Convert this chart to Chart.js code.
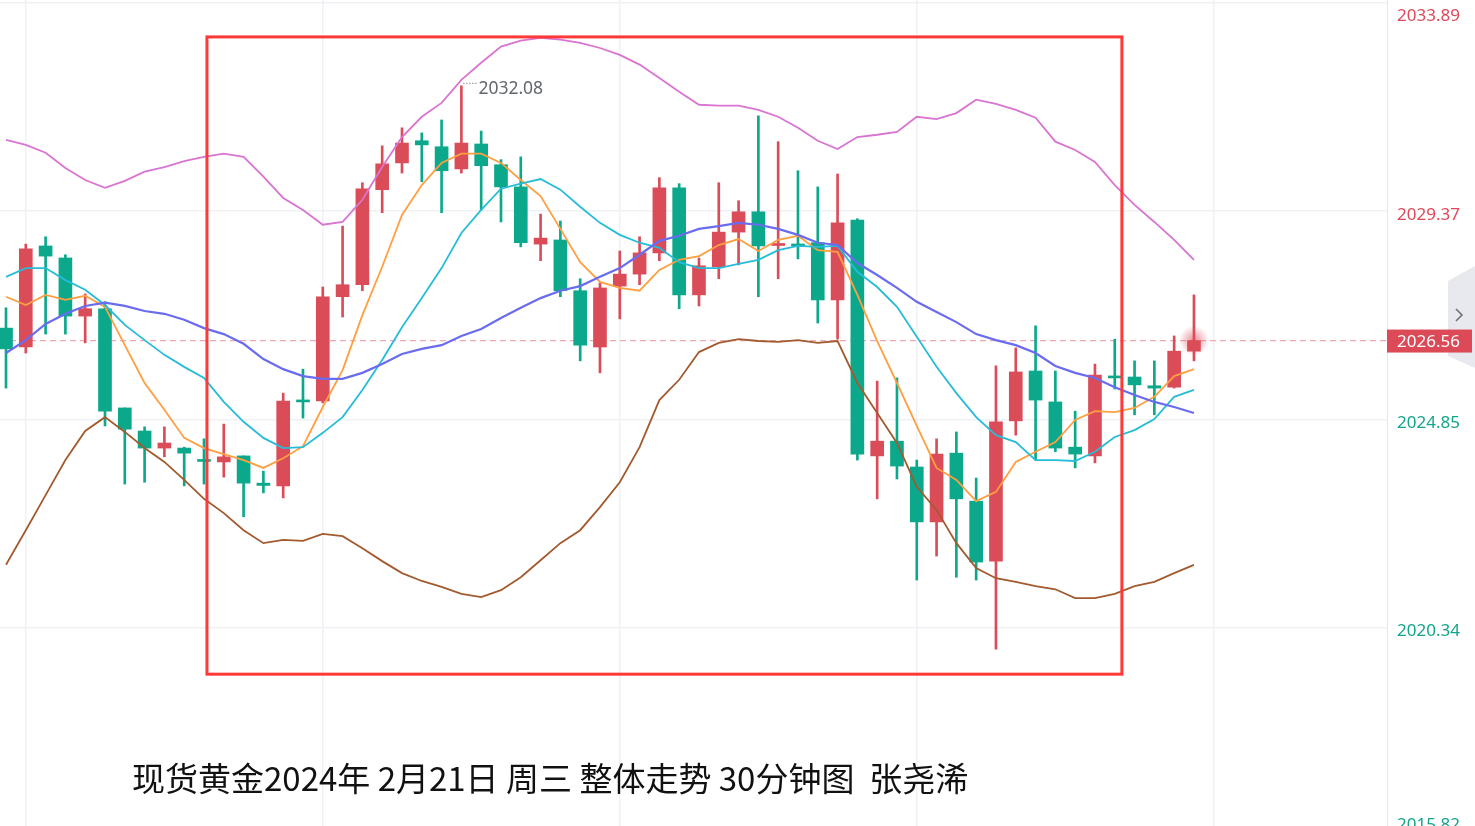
<!DOCTYPE html>
<html lang="zh-CN">
<head>
<meta charset="utf-8">
<title>现货黄金 30分钟图</title>
<script src="https://cdn.jsdelivr.net/npm/chart.js@4.4.1/dist/chart.umd.min.js"></script>
<style>
  html, body { margin: 0; padding: 0; background: #fff; }
  #wrap { position: relative; width: 1475px; height: 826px; overflow: hidden; }
  #chart { display: block; }
  #caption {
    position: absolute; left: 132px; top: 755px;
    font-family: "Noto Sans CJK SC", sans-serif; font-size: 33px;
    line-height: 44px; color: #111; white-space: pre;
  }
</style>
</head>
<body>
<div id="wrap">
  <canvas id="chart" width="1475" height="826"></canvas>
  <div id="caption">现货黄金2024年 2月21日 周三 整体走势 30分钟图  张尧浠</div>
</div>
<script>
// K线数据 (30分钟)
const opens  = [2026.83, 2026.42, 2028.61, 2028.35, 2027.09, 2027.25, 2025.10, 2024.60, 2024.23, 2024.23,
                2023.96, 2023.93, 2024.06, 2023.47, 2023.41, 2025.27, 2025.25, 2027.51, 2027.77, 2029.83,
                2030.41, 2030.89, 2030.76, 2030.28, 2030.82, 2030.37, 2029.89, 2028.65, 2028.74, 2027.64,
                2026.42, 2027.74, 2028.00, 2028.46, 2029.87, 2027.55, 2028.16, 2028.91, 2029.35, 2028.62,
                2028.63, 2028.68, 2027.44, 2029.17, 2024.06, 2024.38, 2023.82, 2022.63, 2024.12, 2023.08,
                2021.78, 2024.82, 2025.90, 2025.23, 2024.25, 2024.06, 2025.77, 2025.77, 2025.58, 2025.55, 2026.33];
const highs  = [2027.27, 2028.65, 2028.81, 2028.42, 2027.57, 2027.40, 2025.10, 2024.69, 2024.69, 2024.25,
                2024.43, 2024.75, 2024.06, 2023.73, 2025.42, 2025.94, 2027.72, 2029.04, 2029.98, 2030.78,
                2031.17, 2031.06, 2031.34, 2032.08, 2031.10, 2030.48, 2030.54, 2029.30, 2029.15, 2027.90,
                2027.81, 2028.50, 2028.81, 2030.09, 2029.96, 2028.35, 2029.98, 2029.59, 2031.43, 2030.87,
                2030.24, 2029.89, 2030.17, 2029.20, 2025.68, 2025.75, 2023.97, 2024.43, 2024.58, 2023.58,
                2026.01, 2026.40, 2026.88, 2025.90, 2025.03, 2026.05, 2026.59, 2026.12, 2026.12, 2026.66, 2027.55];
const lows   = [2025.53, 2026.29, 2026.70, 2026.70, 2026.51, 2024.71, 2023.45, 2023.49, 2024.04, 2023.41,
                2023.45, 2023.60, 2022.74, 2023.26, 2023.15, 2024.88, 2025.21, 2027.07, 2027.64, 2029.33,
                2030.19, 2030.00, 2029.33, 2030.19, 2029.39, 2029.13, 2028.59, 2028.29, 2027.51, 2026.12,
                2025.86, 2027.03, 2027.77, 2028.29, 2027.25, 2027.31, 2027.90, 2028.20, 2027.51, 2027.90,
                2028.33, 2026.94, 2026.59, 2023.97, 2023.13, 2023.56, 2021.37, 2021.89, 2021.43, 2021.37,
                2019.87, 2024.51, 2023.97, 2024.15, 2023.80, 2023.91, 2025.51, 2024.95, 2024.95, 2025.53, 2026.12];
const closes = [2026.38, 2028.55, 2028.39, 2027.09, 2027.25, 2025.03, 2024.64, 2024.23, 2024.34, 2024.12,
                2023.94, 2024.04, 2023.47, 2023.42, 2025.25, 2025.23, 2027.51, 2027.77, 2029.85, 2030.39,
                2030.84, 2030.80, 2030.24, 2030.84, 2030.35, 2029.89, 2028.68, 2028.78, 2027.64, 2026.46,
                2027.70, 2028.00, 2028.46, 2029.87, 2027.55, 2028.18, 2028.91, 2029.35, 2028.61, 2028.65,
                2028.61, 2027.44, 2029.11, 2024.10, 2024.38, 2023.84, 2022.63, 2024.10, 2023.13, 2021.76,
                2024.80, 2025.88, 2025.27, 2024.23, 2024.10, 2025.81, 2025.75, 2025.60, 2025.53, 2026.33, 2026.56];

// 均线
const ma5  = [2027.51, 2027.33, 2027.55, 2027.44, 2027.53, 2027.29, 2026.46, 2025.64, 2025.06, 2024.45,
              2024.23, 2024.10, 2023.97, 2023.80, 2024.01, 2024.27, 2025.12, 2025.92, 2027.11, 2028.16,
              2029.28, 2029.93, 2030.41, 2030.61, 2030.61, 2030.41, 2030.04, 2029.69, 2028.98, 2028.26,
              2027.83, 2027.70, 2027.64, 2028.09, 2028.31, 2028.39, 2028.63, 2028.76, 2028.50, 2028.74,
              2028.83, 2028.52, 2028.48, 2027.55, 2026.55, 2025.64, 2024.71, 2023.80, 2023.54, 2023.08,
              2023.28, 2023.93, 2024.15, 2024.36, 2024.84, 2025.03, 2025.01, 2025.10, 2025.34, 2025.79, 2025.94];
const ma10 = [2027.94, 2028.13, 2028.13, 2027.87, 2027.66, 2027.33, 2026.90, 2026.57, 2026.25, 2025.99,
              2025.75, 2025.23, 2024.80, 2024.45, 2024.23, 2024.25, 2024.56, 2024.90, 2025.49, 2026.14,
              2026.85, 2027.48, 2028.13, 2028.89, 2029.39, 2029.85, 2029.96, 2030.06, 2029.83, 2029.46,
              2029.11, 2028.85, 2028.68, 2028.57, 2028.26, 2028.13, 2028.13, 2028.22, 2028.31, 2028.52,
              2028.61, 2028.59, 2028.61, 2028.05, 2027.72, 2027.29, 2026.64, 2025.99, 2025.42, 2024.90,
              2024.51, 2024.36, 2023.97, 2023.97, 2023.95, 2024.15, 2024.47, 2024.62, 2024.86, 2025.34, 2025.49];

// 布林带
const bollMid   = [2026.29, 2026.57, 2026.92, 2027.14, 2027.31, 2027.38, 2027.31, 2027.20, 2027.14, 2027.01,
                   2026.83, 2026.70, 2026.49, 2026.16, 2025.94, 2025.79, 2025.73, 2025.73, 2025.86, 2026.05,
                   2026.27, 2026.38, 2026.46, 2026.66, 2026.81, 2027.05, 2027.27, 2027.48, 2027.64, 2027.74,
                   2027.94, 2028.13, 2028.42, 2028.72, 2028.83, 2028.98, 2029.04, 2029.11, 2029.07, 2028.98,
                   2028.85, 2028.68, 2028.63, 2028.24, 2027.98, 2027.70, 2027.40, 2027.18, 2026.96, 2026.70,
                   2026.57, 2026.46, 2026.29, 2026.01, 2025.86, 2025.75, 2025.55, 2025.38, 2025.23, 2025.12, 2024.99];
const bollUpper = [2030.91, 2030.80, 2030.63, 2030.30, 2030.04, 2029.87, 2030.02, 2030.22, 2030.32, 2030.45,
                   2030.54, 2030.61, 2030.54, 2030.11, 2029.65, 2029.39, 2029.07, 2029.13, 2029.61, 2030.32,
                   2030.97, 2031.41, 2031.71, 2032.21, 2032.58, 2032.93, 2033.06, 2033.12, 2033.08, 2033.01,
                   2032.90, 2032.75, 2032.54, 2032.25, 2031.95, 2031.67, 2031.65, 2031.65, 2031.56, 2031.41,
                   2031.17, 2030.89, 2030.71, 2030.97, 2031.02, 2031.08, 2031.41, 2031.36, 2031.49, 2031.78,
                   2031.69, 2031.56, 2031.39, 2030.87, 2030.69, 2030.43, 2029.93, 2029.50, 2029.13, 2028.74, 2028.31];
const bollLower = [2021.70, 2022.45, 2023.21, 2023.97, 2024.60, 2024.90, 2024.58, 2024.23, 2023.93, 2023.54,
                   2023.13, 2022.82, 2022.45, 2022.17, 2022.24, 2022.22, 2022.37, 2022.32, 2022.06, 2021.78,
                   2021.52, 2021.35, 2021.22, 2021.07, 2021.00, 2021.15, 2021.43, 2021.80, 2022.17, 2022.45,
                   2022.95, 2023.49, 2024.25, 2025.27, 2025.71, 2026.31, 2026.51, 2026.59, 2026.55, 2026.53,
                   2026.57, 2026.51, 2026.55, 2025.64, 2024.99, 2024.34, 2023.39, 2022.89, 2022.17, 2021.63,
                   2021.41, 2021.33, 2021.24, 2021.17, 2020.98, 2020.98, 2021.07, 2021.24, 2021.33, 2021.52, 2021.70];

// 坐标轴刻度
const yTicks = [2033.89, 2029.37, 2024.85, 2020.34, 2015.82];
const xGridIdx = [1, 16, 31, 46, 61];
const lastPrice = 2026.56;
const highMark = { idx: 23, price: 2032.08 };
// 红框 (K线序号 / 价格)
const boxRange = { x1: 10.15, x2: 56.36, yTop: 2033.14, yBottom: 2019.33 };

const upColor = '#DB4C59';
const downColor = '#0BA88B';
const idx = opens.map((_, i) => i);
const candleColors = idx.map(i => closes[i] >= opens[i] ? upColor : downColor);

function lineSet(values, color, width) {
    return {
        type: 'line',
        data: idx.map(i => ({ x: i, y: values[i] })),
        borderColor: color,
        borderWidth: width,
        pointRadius: 0,
        tension: 0,
        fill: false,
        order: 0
    };
}

const overlayPlugin = {
    id: 'overlay',
    beforeDatasetsDraw(chart) {
        const { ctx, chartArea, scales: { y } } = chart;
        const py = y.getPixelForValue(lastPrice);
        ctx.save();
        ctx.strokeStyle = '#F0A9B0';
        ctx.lineWidth = 1.2;
        ctx.setLineDash([6, 4]);
        ctx.beginPath();
        ctx.moveTo(chartArea.left, py);
        ctx.lineTo(chartArea.right, py);
        ctx.stroke();
        ctx.restore();
    },
    afterDatasetsDraw(chart) {
        const { ctx, chartArea, scales: { x, y } } = chart;
        ctx.save();

        // 最新价光晕
        const gx = x.getPixelForValue(idx.length - 1);
        const gy = y.getPixelForValue(lastPrice);
        const grad = ctx.createRadialGradient(gx, gy, 2, gx, gy, 15);
        grad.addColorStop(0, 'rgba(219,76,89,0.55)');
        grad.addColorStop(1, 'rgba(219,76,89,0)');
        ctx.fillStyle = grad;
        ctx.beginPath();
        ctx.arc(gx, gy, 15, 0, Math.PI * 2);
        ctx.fill();

        // 最高价标注
        const hx = x.getPixelForValue(highMark.idx);
        const hy = y.getPixelForValue(highMark.price);
        ctx.strokeStyle = '#555';
        ctx.lineWidth = 1;
        ctx.setLineDash([1, 2]);
        ctx.beginPath();
        ctx.moveTo(hx + 2, hy - 2.5);
        ctx.lineTo(hx + 16, hy - 2.5);
        ctx.stroke();
        ctx.setLineDash([]);
        ctx.fillStyle = '#62666F';
        ctx.font = '17.5px "Noto Sans"';
        ctx.textBaseline = 'middle';
        ctx.fillText(highMark.price.toFixed(2), hx + 17, hy + 3);

        // 红框
        ctx.strokeStyle = '#FF3838';
        ctx.lineWidth = 3;
        const bx1 = x.getPixelForValue(boxRange.x1), bx2 = x.getPixelForValue(boxRange.x2);
        const by1 = y.getPixelForValue(boxRange.yTop), by2 = y.getPixelForValue(boxRange.yBottom);
        ctx.strokeRect(bx1, by1, bx2 - bx1, by2 - by1);

        // 右侧价格刻度
        const axisX = chartArea.right + 10;
        ctx.font = '17px "Noto Sans"';
        yTicks.forEach(v => {
            let py = y.getPixelForValue(v) + 4;
            py = Math.max(16, Math.min(825, py));
            ctx.fillStyle = v > lastPrice ? '#E0485A' : '#12A58A';
            ctx.fillText(v.toFixed(2), axisX, py);
        });

        // 右侧折叠按钮
        const w = chart.width;
        ctx.fillStyle = 'rgba(228,229,235,0.85)';
        ctx.beginPath();
        ctx.moveTo(w, 266);
        ctx.lineTo(w - 27, 281);
        ctx.lineTo(w - 27, 356);
        ctx.lineTo(w, 368);
        ctx.closePath();
        ctx.fill();
        ctx.strokeStyle = '#6E717A';
        ctx.lineWidth = 1.6;
        ctx.beginPath();
        ctx.moveTo(w - 19, 309);
        ctx.lineTo(w - 13, 315);
        ctx.lineTo(w - 19, 321);
        ctx.stroke();

        // 最新价标签
        ctx.fillStyle = '#DB4A56';
        ctx.fillRect(chartArea.right, gy - 11, 85, 23);
        ctx.fillStyle = '#fff';
        ctx.fillText(lastPrice.toFixed(2), axisX, gy + 1.5);

        ctx.restore();
    }
};

new Chart(document.getElementById('chart'), {
    type: 'bar',
    data: {
        datasets: [
            {
                type: 'bar',
                data: idx.map(i => ({ x: i, y: [opens[i], closes[i]] })),
                backgroundColor: candleColors,
                barThickness: 13,
                minBarLength: 2,
                grouped: false,
                order: 1
            },
            {
                type: 'bar',
                data: idx.map(i => ({ x: i, y: [lows[i], highs[i]] })),
                backgroundColor: candleColors,
                barThickness: 2,
                grouped: false,
                order: 2
            },
            lineSet(bollUpper, '#D974D2', 1.8),
            lineSet(bollLower, '#A35A2E', 1.8),
            lineSet(bollMid, '#6A6CF0', 2.2),
            lineSet(ma10, '#26BCD9', 1.8),
            lineSet(ma5, '#FF9F40', 1.8)
        ]
    },
    options: {
        responsive: false,
        animation: false,
        layout: { padding: 0 },
        plugins: {
            legend: { display: false },
            tooltip: { enabled: false }
        },
        scales: {
            x: {
                type: 'linear',
                min: -0.303,
                max: 69.75,
                offset: false,
                grid: { color: '#F0F1F5', lineWidth: 1.5, drawTicks: false, offset: false },
                border: { display: false },
                ticks: { display: false },
                afterBuildTicks: s => { s.ticks = xGridIdx.map(v => ({ value: v })); },
                afterFit: s => { s.height = 0; }
            },
            y: {
                type: 'linear',
                position: 'right',
                min: 2016.04,
                max: 2033.94,
                grid: { color: '#F0F1F5', lineWidth: 1.5, drawTicks: false },
                border: { display: true, color: '#E6E7EC' },
                ticks: { display: false },
                afterBuildTicks: s => { s.ticks = yTicks.map(v => ({ value: v })); },
                afterFit: s => { s.width = 88; }
            }
        }
    },
    plugins: [overlayPlugin]
});
</script>
</body>
</html>
